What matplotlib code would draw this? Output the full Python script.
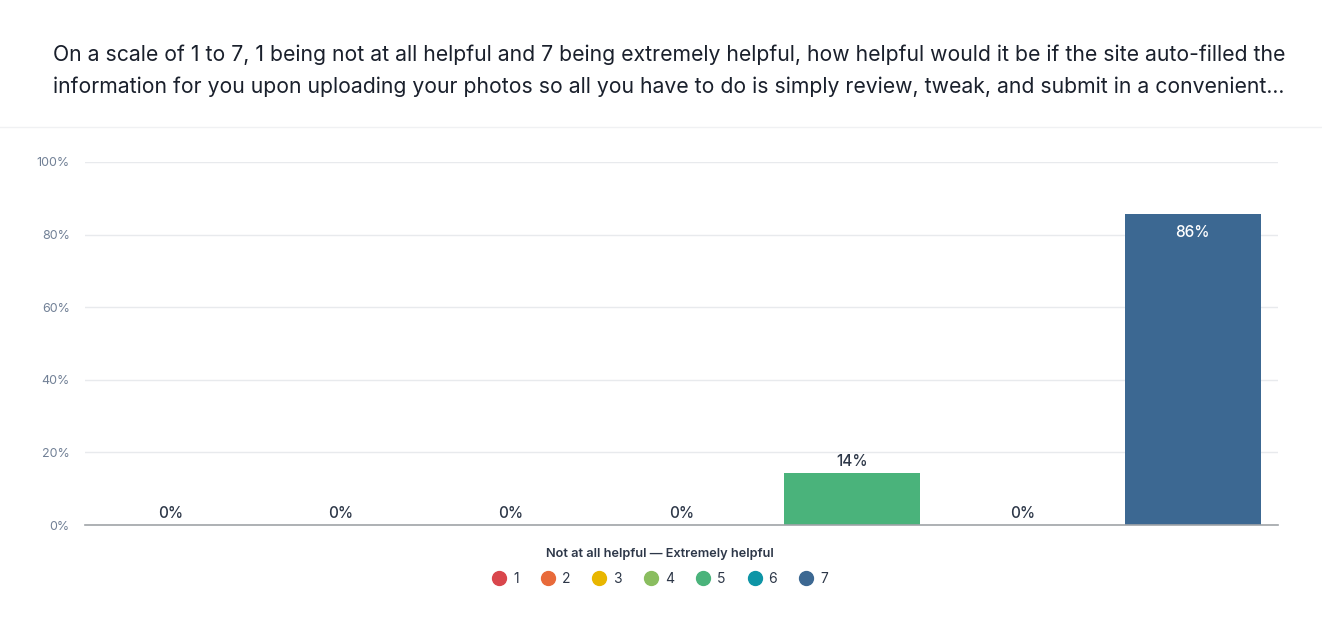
import matplotlib
matplotlib.use("Agg")
import matplotlib.pyplot as plt
from matplotlib.lines import Line2D

plt.rcParams['font.family'] = ['Inter', 'DejaVu Sans']

categories = ["1", "2", "3", "4", "5", "6", "7"]
values = [0, 0, 0, 0, 14.29, 0, 85.71]
labels = ["0%", "0%", "0%", "0%", "14%", "0%", "86%"]
colors = ["#d9464c", "#e86a3a", "#e8b600", "#8abd5f", "#4ab37b", "#0e95a6", "#3c6892"]
yticks = [0, 20, 40, 60, 80, 100]
title = ("On a scale of 1 to 7, 1 being not at all helpful and 7 being extremely helpful, how helpful would it be if the site auto-filled the\n"
         "information for you upon uploading your photos so all you have to do is simply review, tweak, and submit in a convenient...")
legend_title = "Not at all helpful — Extremely helpful"

W, H = 1322, 621
fig = plt.figure(figsize=(W / 100, H / 100), dpi=100)
ax = fig.add_axes([85 / W, 1 - 525 / H, (1278 - 85) / W, (525 - 162) / H])

x = list(range(len(categories)))
ax.bar(x, values, width=0.8, color=colors, linewidth=0, zorder=3)
ax.set_xlim(-0.5, len(categories) - 0.5)
ax.set_ylim(0, 100)
ax.set_yticks(yticks)
ax.set_yticklabels([f"{t}%" for t in yticks], fontsize=9, color="#718096")
ax.set_xticks([])
ax.tick_params(axis='y', length=0, pad=11)
ax.grid(axis='y', color="#e8eaed", linewidth=1, zorder=0)
for s in ["top", "right", "left"]:
    ax.spines[s].set_visible(False)
ax.spines["bottom"].set_color("#a0a4a8")
ax.spines["bottom"].set_linewidth(1.2)
ax.spines["bottom"].set_zorder(4)

for xi, v, lab in zip(x, values, labels):
    if v > 50:
        ax.annotate(lab, (xi, v), xytext=(0, -8), textcoords="offset points",
                    ha="center", va="top", fontsize=11, fontweight="medium",
                    color="white", zorder=5)
    else:
        ax.annotate(lab, (xi, v), xytext=(0, 3), textcoords="offset points",
                    ha="center", va="bottom", fontsize=11, fontweight="medium",
                    color="#2d3748", zorder=5)

fig.text(669 / W, 1 - 71 / H, title, ha="center", va="center", fontsize=15.25,
         color="#1a202c", linespacing=1.7)
fig.add_artist(Line2D([0, 1], [1 - 127 / H, 1 - 127 / H], color="#f0f1f3", linewidth=1))

fig.text(660 / W, 1 - 554 / H, legend_title, ha="center", va="center",
         fontsize=9.2, fontweight="semibold", color="#2d3748")

handles = [Line2D([0], [0], marker='o', linestyle='none', markersize=10,
                  markerfacecolor=c, markeredgecolor=c) for c in colors]
leg = fig.legend(handles, categories, loc="center", bbox_to_anchor=(660 / W, 1 - 579 / H),
                 ncol=7, frameon=False, fontsize=10,
                 handletextpad=0.5, columnspacing=1.6, handlelength=1.0,
                 borderaxespad=0, borderpad=0)
for t in leg.get_texts():
    t.set_color("#2d3748")

fig.savefig("out.png", dpi=100, facecolor="white")
